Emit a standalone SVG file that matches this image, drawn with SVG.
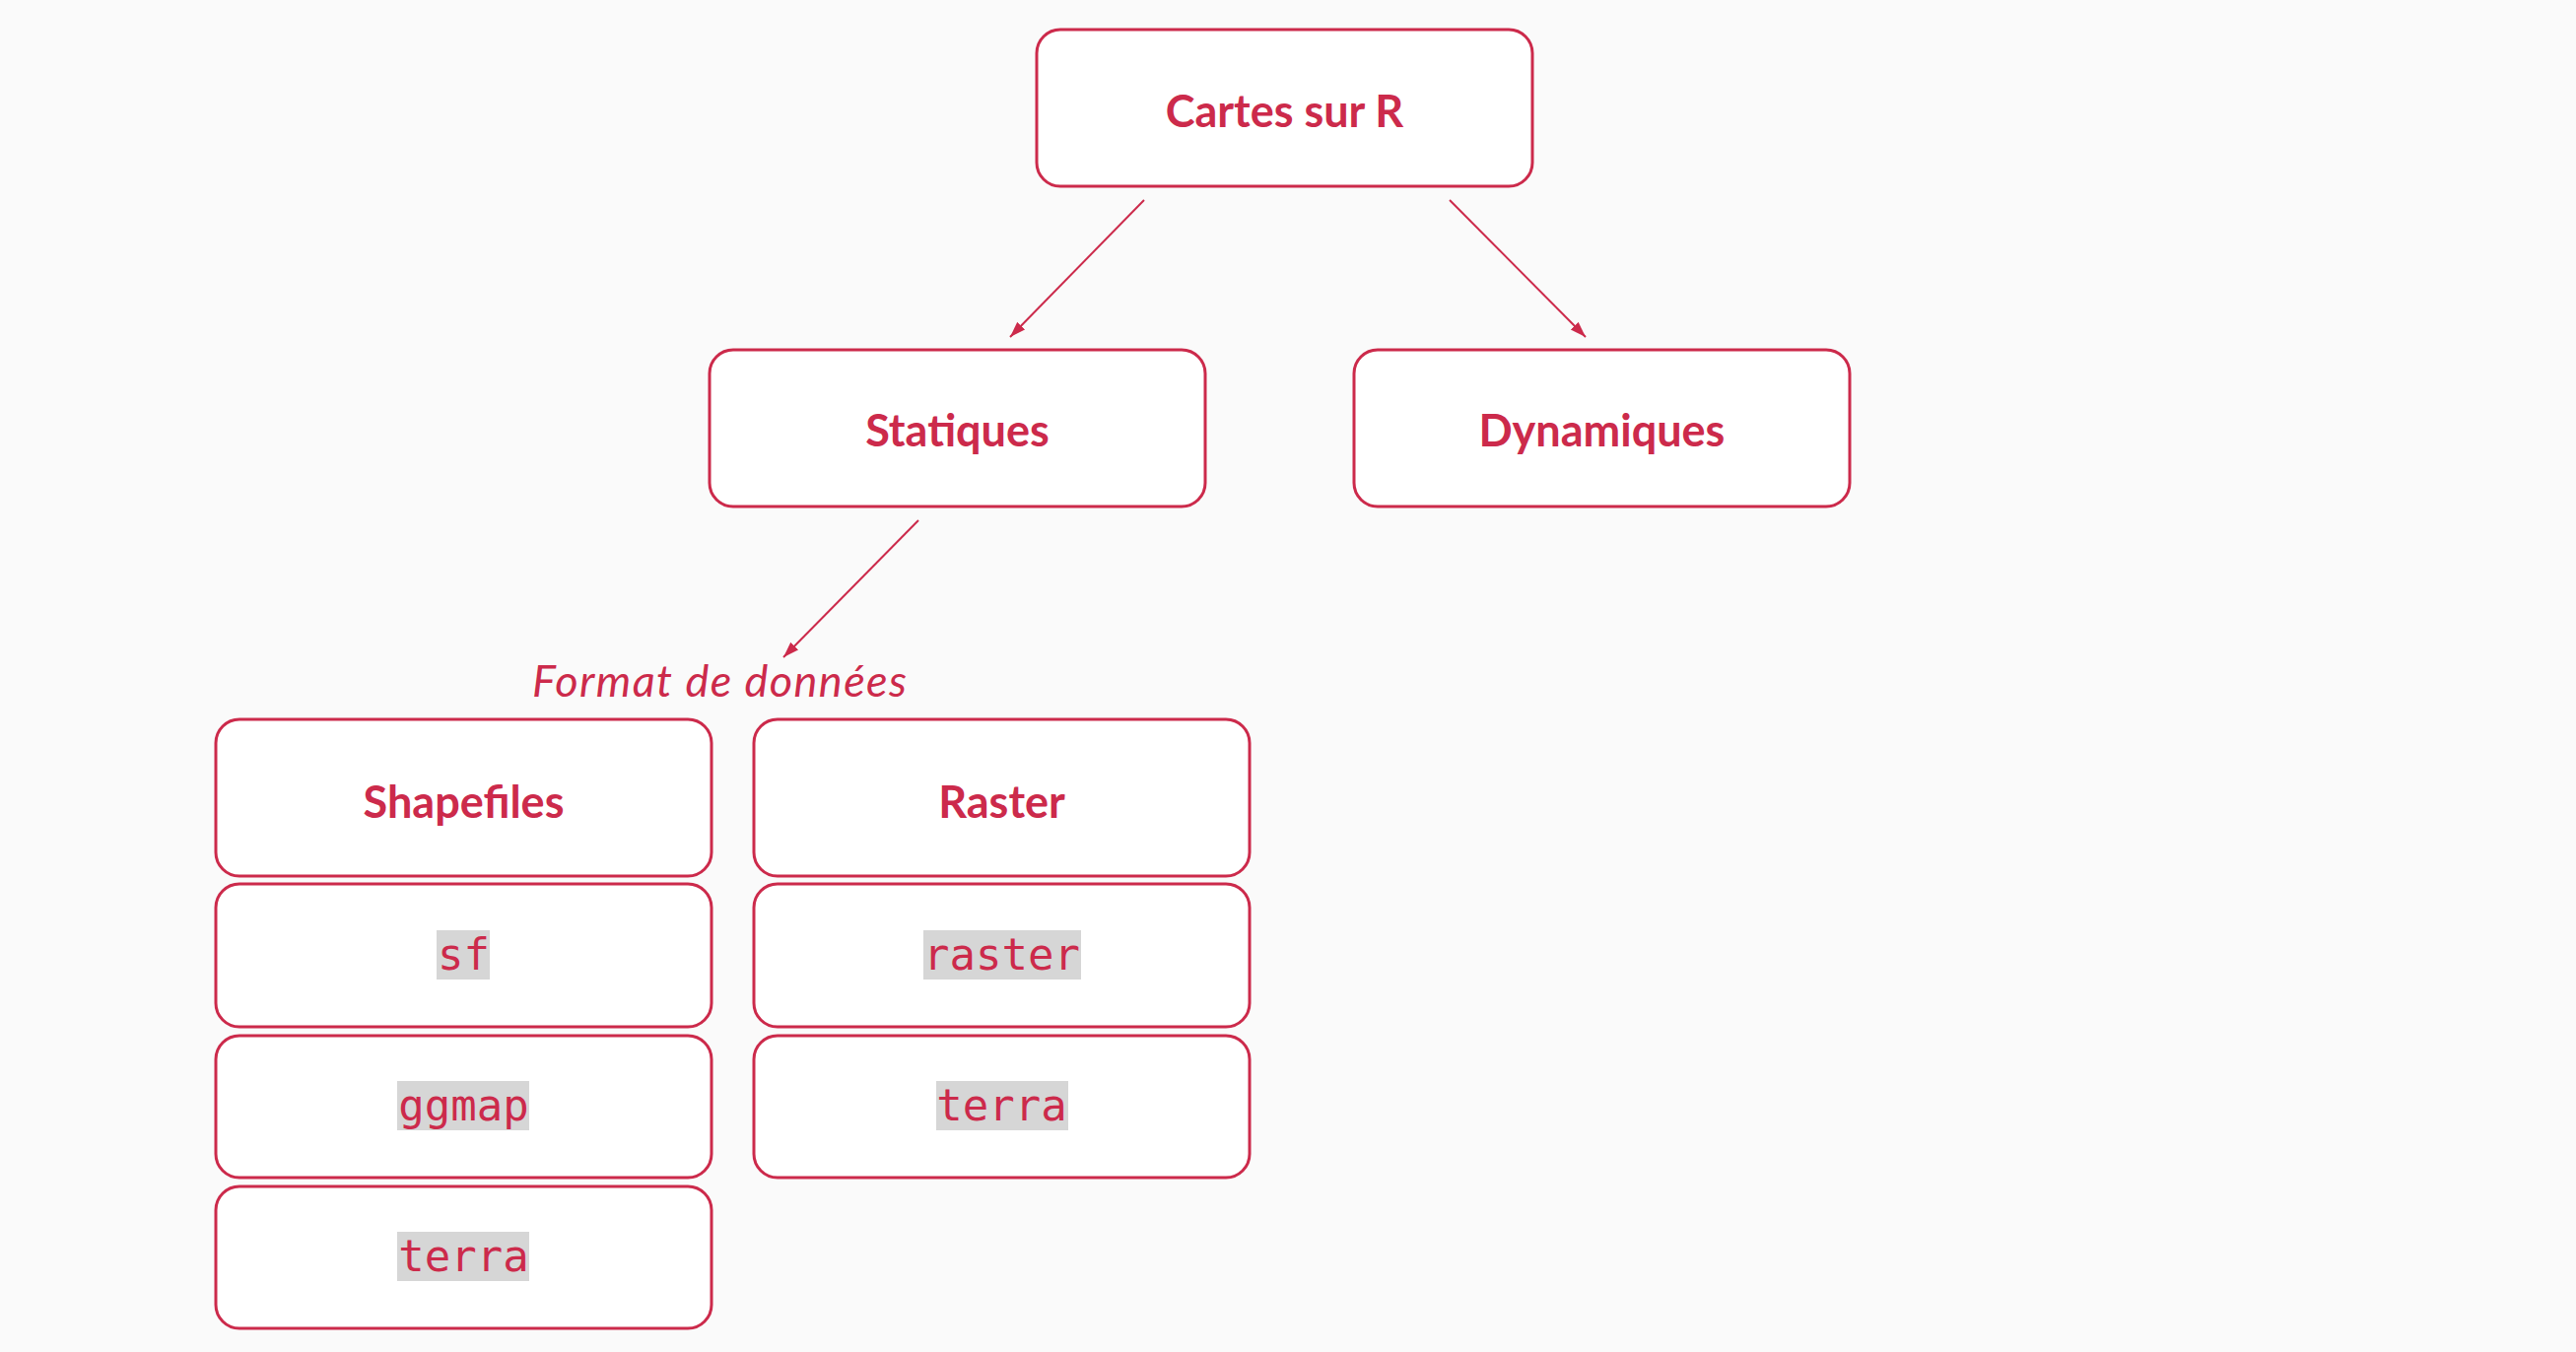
<svg xmlns="http://www.w3.org/2000/svg" width="2614" height="1372" viewBox="0 0 2614 1372">
  <style>
    .box { fill: #ffffff; stroke: #cc2a4b; stroke-width: 3; }
    .lbl { font-family: Lato, "Noto Sans", sans-serif; font-weight: bold; font-size: 45px; fill: #cc2a4b; text-anchor: middle; }
    .code { font-family: "DejaVu Sans Mono", "Liberation Mono", monospace; font-size: 44px; fill: #cc2a4b; text-anchor: middle; }
    .hl { fill: #d6d6d6; }
    .edge { stroke: #cc2a4b; stroke-width: 2; fill: none; }
    .elbl { font-family: Lato, "Noto Sans", sans-serif; font-style: italic; font-size: 45px; fill: #cc2a4b; text-anchor: middle; }
  </style>
  <defs>
    <marker id="arr" markerUnits="userSpaceOnUse" markerWidth="17" markerHeight="12" refX="16" refY="5.5" orient="auto">
      <path d="M0,0 L16,5.5 L0,11 z" fill="#cc2a4b"/>
    </marker>
  </defs>
  <rect width="2614" height="1372" fill="#fafafa"/>

  <g id="connectors">
    <line class="edge" x1="1161" y1="203" x2="1025" y2="342" marker-end="url(#arr)"/>
    <line class="edge" x1="1471" y1="203" x2="1609" y2="342" marker-end="url(#arr)"/>
    <line class="edge" x1="932" y1="528" x2="795" y2="667" marker-end="url(#arr)"/>
    <text class="elbl" x="730" y="707" textLength="380" lengthAdjust="spacing">Format de données</text>
  </g>

  <g id="node-cartes">
    <rect class="box" x="1052" y="30" width="503" height="159" rx="24"/>
    <text class="lbl" x="1303.5" y="129">Cartes sur R</text>
  </g>
  <g id="node-statiques">
    <rect class="box" x="720" y="355" width="503" height="159" rx="24"/>
    <text class="lbl" x="971.5" y="453">Statiques</text>
  </g>
  <g id="node-dynamiques">
    <rect class="box" x="1374" y="355" width="503" height="159" rx="24"/>
    <text class="lbl" x="1625.5" y="453">Dynamiques</text>
  </g>

  <g id="node-shapefiles">
    <rect class="box" x="219" y="730" width="503" height="159" rx="24"/>
    <text class="lbl" x="470.5" y="830">Shapefiles</text>
  </g>
  <g id="node-raster">
    <rect class="box" x="765" y="730" width="503" height="159" rx="24"/>
    <text class="lbl" x="1016.5" y="830">Raster</text>
  </g>

  <g id="node-sf">
    <rect class="box" x="219" y="897" width="503" height="145" rx="24"/>
    <rect class="hl" x="443" y="944" width="54" height="50"/>
    <text class="code" x="470.5" y="984">sf</text>
  </g>
  <g id="node-ggmap">
    <rect class="box" x="219" y="1051" width="503" height="144" rx="24"/>
    <rect class="hl" x="403" y="1097" width="134" height="50"/>
    <text class="code" x="470.5" y="1137">ggmap</text>
  </g>
  <g id="node-terra-left">
    <rect class="box" x="219" y="1204" width="503" height="144" rx="24"/>
    <rect class="hl" x="403" y="1250" width="134" height="50"/>
    <text class="code" x="470.5" y="1290">terra</text>
  </g>
  <g id="node-raster-pkg">
    <rect class="box" x="765" y="897" width="503" height="145" rx="24"/>
    <rect class="hl" x="937" y="944" width="160" height="50"/>
    <text class="code" x="1016.5" y="984">raster</text>
  </g>
  <g id="node-terra-right">
    <rect class="box" x="765" y="1051" width="503" height="144" rx="24"/>
    <rect class="hl" x="950" y="1097" width="134" height="50"/>
    <text class="code" x="1016.5" y="1137">terra</text>
  </g>
</svg>
